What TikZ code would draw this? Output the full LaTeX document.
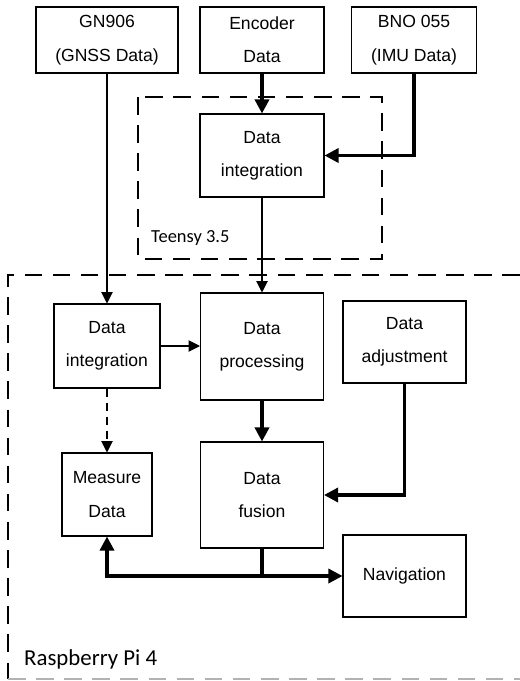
\documentclass[tikz,border=0pt]{standalone}
\usepackage{fontspec}
\setmainfont{Liberation Sans}
\newfontfamily\labelfont{Carlito}
\usepackage{tikz}
\usetikzlibrary{
    arrows.meta,
    positioning,
    calc
}

\begin{document}
\begin{tikzpicture}[x=0.02cm, y=-0.02cm,
    block/.style={draw, line width=0.6pt, align=center, inner sep=0pt,
        font=\fontsize{10}{19}\selectfont},
    thinarrow/.style={line width=0.6pt, -{Triangle[length=6.5pt,width=6.5pt]}},
    thickarrow/.style={line width=1.9pt, -{Triangle[length=8pt,width=8pt]}},
    groupbox/.style={line width=0.6pt, dash pattern=on 10pt off 6pt}
]

\useasboundingbox (0,0) rectangle (520,681);

% Sensors
\node[block, minimum width=2.84cm, minimum height=1.32cm] (gnss) at (107,40) {GN906\\(GNSS Data)};
\node[block, minimum width=2.48cm, minimum height=1.32cm] (enc) at (262,40) {Encoder\\Data};
\node[block, minimum width=2.50cm, minimum height=1.32cm] (bno) at (414,40) {BNO 055\\(IMU Data)};

% Teensy
\node[block, minimum width=2.48cm, minimum height=1.66cm] (integ1) at (262,155.5) {Data\\integration};
\draw[groupbox] (138,97) rectangle (382,259);
\node[anchor=west, font=\labelfont\fontsize{10.5}{12}\selectfont] (teensy) at (145,238) {Teensy 3.5};

% Raspberry Pi
\node[block, minimum width=2.12cm, minimum height=1.68cm] (integ2) at (107,346) {Data\\integration};
\node[block, minimum width=2.46cm, minimum height=2.14cm] (proc) at (262,346.5) {Data\\processing};
\node[block, minimum width=2.46cm, minimum height=1.64cm] (adj) at (404.5,342) {Data\\adjustment};
\node[block, minimum width=1.80cm, minimum height=1.66cm] (meas) at (107,494.5) {Measure\\Data};
\node[block, minimum width=2.46cm, minimum height=2.12cm] (fusion) at (262,495) {Data\\fusion};
\node[block, minimum width=2.46cm, minimum height=1.64cm] (nav) at (404.5,576) {Navigation};
\draw[groupbox] (520,275) -- (8,275) -- (8,679);
\draw[groupbox, gray!60] (8,679) -- (520,679);
\node[anchor=west, font=\labelfont\fontsize{13}{15}\selectfont] (rpi) at (18,659) {Raspberry Pi 4};

% Connections
\draw[thickarrow] (enc) -- (integ1);
\draw[thickarrow] (bno.south) |- (integ1.east);
\draw[thinarrow] (gnss) -- (integ2);
\draw[thinarrow] (integ1) -- (proc);
\draw[thinarrow] (integ2) -- (integ2 -| proc.west);
\draw[thinarrow, dash pattern=on 5pt off 3pt] (integ2) -- (meas);
\draw[thickarrow] (proc) -- (fusion);
\draw[thickarrow] (adj.south) |- (fusion.east);
\draw[line width=1.9pt] (fusion.south) -- (fusion.south |- nav.west);
\draw[thickarrow, {Triangle[length=8pt,width=8pt]}-{Triangle[length=8pt,width=8pt]}] (meas.south) |- (nav.west);

\end{tikzpicture}
\end{document}
